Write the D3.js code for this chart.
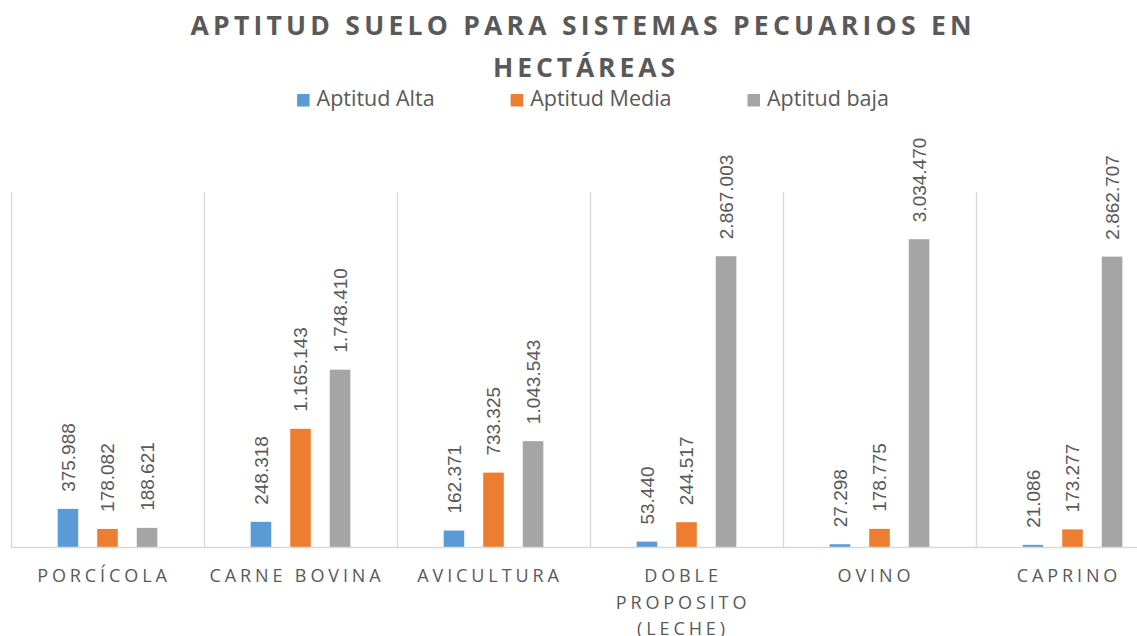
<!DOCTYPE html>
<html>
<head>
<meta charset="utf-8">
<script src="https://cdn.jsdelivr.net/npm/d3@7"></script>
<style>
  html, body { margin: 0; padding: 0; background: #fff; }
  svg { display: block; }
</style>
</head>
<body>
<svg id="chart" width="1137" height="636"></svg>
<script>
// ---- data ----
const categories = ["PORCÍCOLA", "CARNE BOVINA", "AVICULTURA", "DOBLE PROPOSITO (LECHE)", "OVINO", "CAPRINO"];
const seriesNames = ["Aptitud Alta", "Aptitud Media", "Aptitud baja"];
const aptitudAlta  = [375988, 248318, 162371, 53440, 27298, 21086];
const aptitudMedia = [178082, 1165143, 733325, 244517, 178775, 173277];
const aptitudBaja  = [188621, 1748410, 1043543, 2867003, 3034470, 2862707];
const seriesColors = ["#5B9BD5", "#ED7D31", "#A5A5A5"];
const yMax = 3500000;
const titleLines = ["APTITUD SUELO PARA SISTEMAS PECUARIOS EN", "HECTÁREAS"];

const seriesValues = [aptitudAlta, aptitudMedia, aptitudBaja];

// ---- layout ----
const svg = d3.select("#chart");
const textColor = "#595959";
const gridColor = "#D9D9D9";
const plot = { left: 11, top: 192, bottom: 547, step: 193 };

const x0 = d3.scaleBand()
  .domain(categories)
  .range([plot.left, plot.left + plot.step * categories.length])
  .padding(0);

const x1 = d3.scaleBand()
  .domain(seriesNames)
  .range([0, x0.bandwidth()])
  .paddingInner(0.48)
  .paddingOuter(1.18);

const y = d3.scaleLinear().domain([0, yMax]).range([plot.bottom, plot.top]);

const fmt = d3.formatLocale({ decimal: ",", thousands: ".", grouping: [3], currency: ["", ""] }).format(",d");

// ---- title ----
const title = svg.append("g");
title.append("text")
  .attr("x", 581).attr("y", 35)
  .attr("text-anchor", "middle")
  .attr("font-family", "'Open Sans', sans-serif")
  .attr("font-weight", "bold")
  .attr("font-size", 26.5)
  .attr("fill", textColor)
  .attr("textLength", 781)
  .attr("lengthAdjust", "spacing")
  .text(titleLines[0]);
title.append("text")
  .attr("x", 584).attr("y", 76.5)
  .attr("text-anchor", "middle")
  .attr("font-family", "'Open Sans', sans-serif")
  .attr("font-weight", "bold")
  .attr("font-size", 26.5)
  .attr("fill", textColor)
  .attr("textLength", 182)
  .attr("lengthAdjust", "spacing")
  .text(titleLines[1]);

// ---- legend ----
const legend = svg.append("g");
const items = legend.selectAll("g").data(seriesNames).join("g");
items.append("rect")
  .attr("width", 12.5).attr("height", 12.5)
  .attr("y", 94)
  .attr("fill", (d, i) => seriesColors[i]);
items.append("text")
  .attr("x", 19.5).attr("y", 106)
  .attr("font-family", "'Open Sans', sans-serif")
  .attr("font-size", 21.5)
  .attr("fill", textColor)
  .text(d => d);
let widths = [];
items.each(function () { widths.push(19.5 + d3.select(this).select("text").node().getComputedTextLength()); });
const gap = 76;
const total = d3.sum(widths) + gap * (widths.length - 1);
let cx = 593 - total / 2;
items.attr("transform", (d, i) => { const t = `translate(${cx},0)`; cx += widths[i] + gap; return t; });

// ---- gridlines ----
const grid = svg.append("g");
const bounds = categories.map(c => x0(c)).concat([x0.range()[1]]);
grid.selectAll("line").data(bounds).join("line")
  .attr("x1", d => d + 0.5).attr("x2", d => d + 0.5)
  .attr("y1", y(yMax)).attr("y2", y(0))
  .attr("stroke", gridColor).attr("stroke-width", 1.3);

// ---- bars ----
const groups = svg.append("g").selectAll("g").data(categories).join("g")
  .attr("transform", d => `translate(${x0(d)},0)`);

groups.each(function (cat, ci) {
  const g = d3.select(this);
  const rows = seriesNames.map((s, si) => ({ s, si, v: seriesValues[si][ci] }));
  g.selectAll("rect").data(rows).join("rect")
    .attr("x", d => x1(d.s))
    .attr("width", x1.bandwidth())
    .attr("y", d => y(d.v))
    .attr("height", d => y(0) - y(d.v))
    .attr("fill", d => seriesColors[d.si]);
  g.selectAll("text").data(rows).join("text")
    .attr("transform", d => `translate(${x1(d.s) + x1.bandwidth() / 2},${y(d.v) - 17}) rotate(-90)`)
    .attr("dy", "0.36em")
    .attr("text-anchor", "start")
    .attr("font-family", "'Liberation Sans', Arial, sans-serif")
    .attr("font-size", 19)
    .attr("fill", textColor)
    .text(d => fmt(d.v));
});

// ---- x axis line ----
svg.append("line")
  .attr("x1", x0.range()[0]).attr("x2", x0.range()[1])
  .attr("y1", y(0) + 0.5).attr("y2", y(0) + 0.5)
  .attr("stroke", gridColor).attr("stroke-width", 1.5);

// ---- category labels ----
const labels = svg.append("g").selectAll("text").data(categories).join("text")
  .attr("text-anchor", "middle")
  .attr("font-family", "'Open Sans', sans-serif")
  .attr("font-size", 18)
  .attr("letter-spacing", "3.9px")
  .attr("fill", textColor)
  .attr("y", 582);

labels.each(function (cat) {
  const t = d3.select(this);
  const words = cat.split(" ");
  const xc = x0(cat) + x0.bandwidth() / 2 - 3.5;
  const maxW = x0.bandwidth() - 6;
  let lines = [], cur = [];
  const probe = t.append("tspan");
  words.forEach(w => {
    const test = cur.concat([w]).join(" ");
    probe.text(test);
    if (probe.node().getComputedTextLength() > maxW && cur.length) {
      lines.push(cur.join(" "));
      cur = [w];
    } else cur.push(w);
  });
  lines.push(cur.join(" "));
  probe.remove();
  lines.forEach((ln, i) => {
    t.append("tspan").attr("x", xc).attr("y", 582 + i * 26.5).text(ln);
  });
});
</script>
</body>
</html>
